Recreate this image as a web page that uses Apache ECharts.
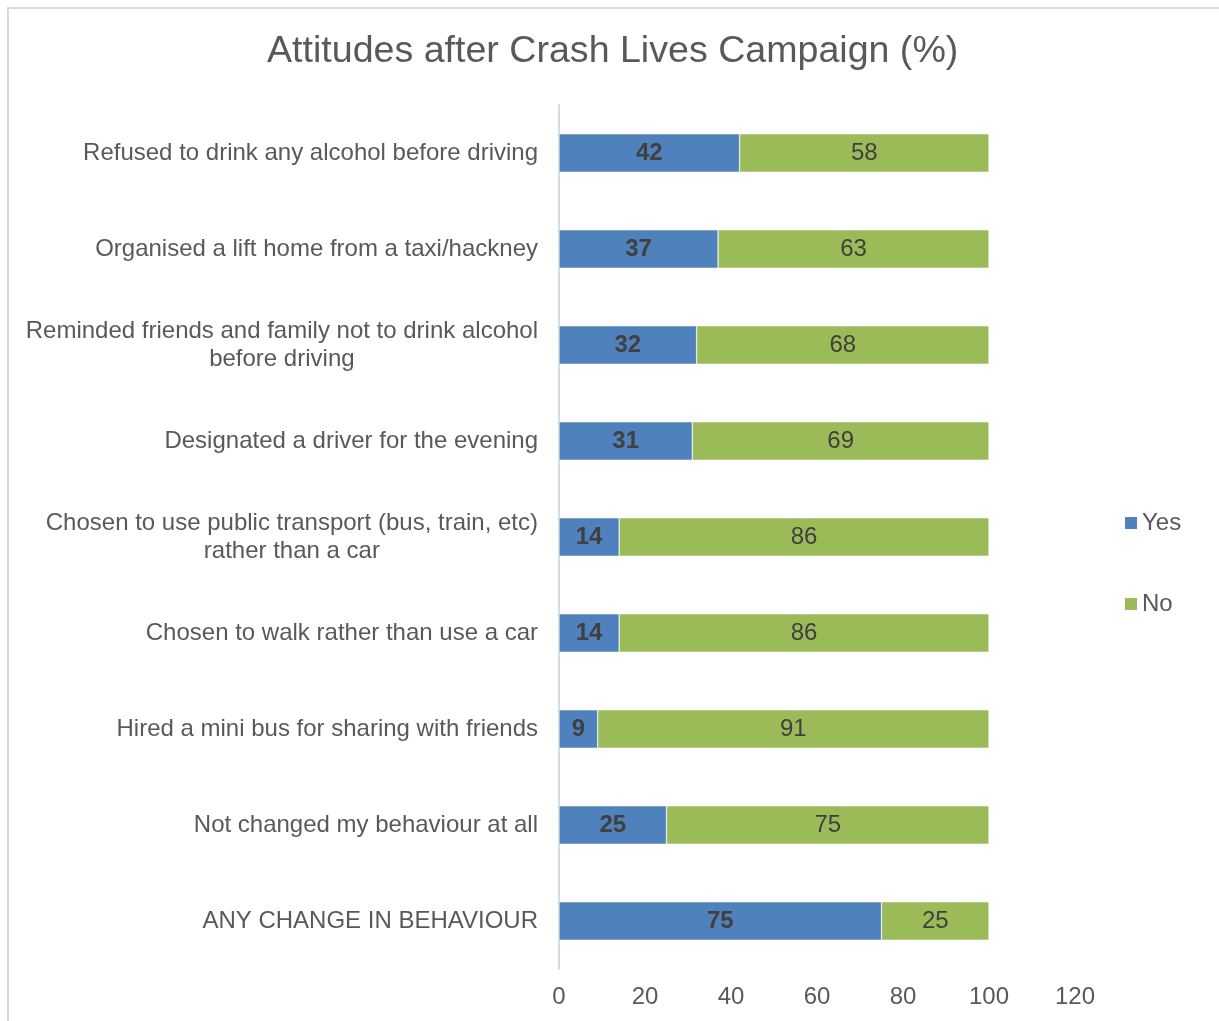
<!DOCTYPE html>
<html>
<head>
<meta charset="utf-8">
<script src="https://cdn.jsdelivr.net/npm/echarts@6/dist/echarts.min.js"></script>
<style>
html,body{margin:0;padding:0;background:#fff;}
#frame{position:absolute;left:7px;top:7px;width:1212px;height:1014px;border-top:2px solid #d9d9d9;border-left:2px solid #d9d9d9;box-sizing:border-box;}
#chart{position:absolute;left:0;top:0;width:1219px;height:1021px;}
</style>
</head>
<body>
<div id="frame"></div>
<div id="chart"></div>
<script>
var categories = [
  "Refused to drink any alcohol before driving",
  "Organised a lift home from a taxi/hackney",
  "Reminded friends and family not to drink alcohol\nbefore driving",
  "Designated a driver for the evening",
  "Chosen to use public transport (bus, train, etc)\nrather than a car",
  "Chosen to walk rather than use a car",
  "Hired a mini bus for sharing with friends",
  "Not changed my behaviour at all",
  "ANY CHANGE IN BEHAVIOUR"
];
var yesValues = [42, 37, 32, 31, 14, 14, 9, 25, 75];
var noValues = [58, 63, 68, 69, 86, 86, 91, 75, 25];
var xTicks = [0, 20, 40, 60, 80, 100, 120];

var FONT = "'Liberation Sans', Arial, sans-serif";
var LSIZE = 24;
var canvas = document.createElement('canvas');
var ctx = canvas.getContext('2d');
ctx.font = LSIZE + "px 'Liberation Sans', Arial, sans-serif";
function widest(s) {
  return Math.max.apply(null, s.split('\n').map(function (l) { return ctx.measureText(l).width; }));
}
var catData = categories.map(function (c) {
  if (c.indexOf('\n') >= 0) {
    return { value: c, textStyle: { align: 'center', padding: [0, widest(c), 0, 0] } };
  }
  return c;
});

var chart = echarts.init(document.getElementById('chart'));
chart.setOption({
  backgroundColor: 'transparent',
  animation: false,
  title: {
    text: 'Attitudes after Crash Lives Campaign (%)',
    left: 267,
    top: 33,
    padding: 0,
    textStyle: { fontFamily: FONT, fontSize: 37.6, fontWeight: 'normal', color: '#595959' }
  },
  legend: {
    orient: 'vertical',
    left: 1125,
    top: 511,
    padding: 0,
    itemWidth: 12,
    itemHeight: 12,
    itemGap: 57,
    icon: 'rect',
    data: ['Yes', 'No'],
    itemStyle: { borderWidth: 0 },
    textStyle: { fontFamily: FONT, fontSize: LSIZE, color: '#595959' }
  },
  grid: { left: 559, right: 144, top: 105, bottom: 52, containLabel: false },
  xAxis: {
    type: 'value',
    min: xTicks[0],
    max: xTicks[xTicks.length - 1],
    interval: 20,
    splitLine: { show: false },
    axisLine: { show: false },
    axisTick: { show: false },
    axisLabel: { margin: 16, fontFamily: FONT, fontSize: LSIZE, color: '#595959' }
  },
  yAxis: {
    type: 'category',
    inverse: true,
    data: catData,
    axisLine: { show: true, lineStyle: { color: '#d9d9d9', width: 2 } },
    axisTick: { show: false },
    axisLabel: { margin: 21, fontFamily: FONT, fontSize: LSIZE, color: '#595959', lineHeight: 28 }
  },
  series: [
    {
      name: 'Yes',
      type: 'bar',
      stack: 'all',
      barCategoryGap: '60%',
      data: yesValues,
      itemStyle: { color: '#4f81bd', borderColor: '#ffffff', borderWidth: 0.5 },
      label: { show: true, position: 'inside', fontFamily: FONT, fontSize: LSIZE, fontWeight: 'bold', color: '#404040' }
    },
    {
      name: 'No',
      type: 'bar',
      stack: 'all',
      barCategoryGap: '60%',
      data: noValues,
      itemStyle: { color: '#9bbb59', borderColor: '#ffffff', borderWidth: 0.5 },
      label: { show: true, position: 'inside', fontFamily: FONT, fontSize: LSIZE, color: '#404040' }
    }
  ]
});
</script>
</body>
</html>
